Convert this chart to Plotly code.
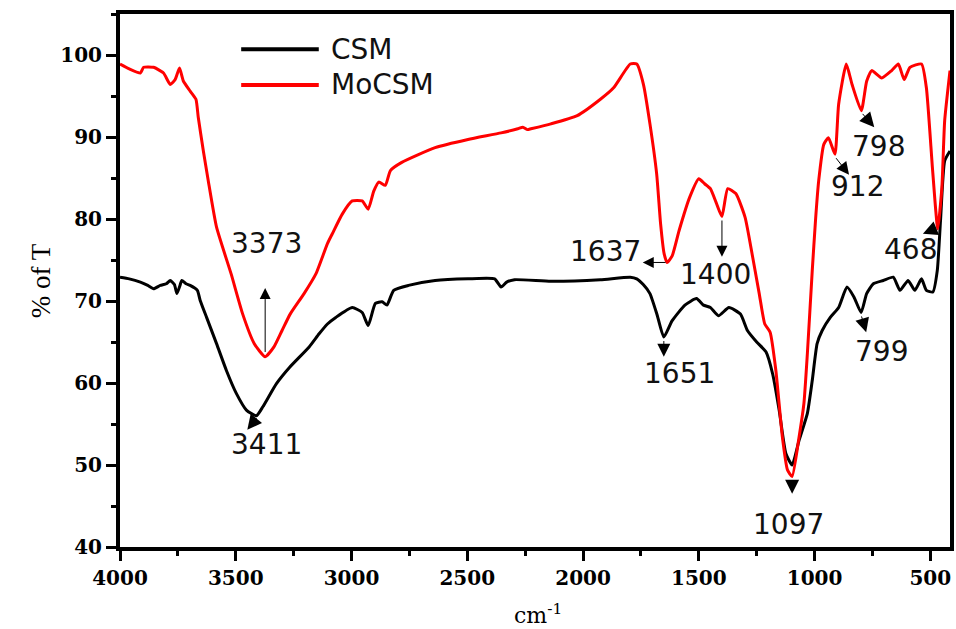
import plotly.graph_objects as go

# FTIR transmittance spectra (wavenumber in cm-1, % transmittance)
wn_csm = [4000, 3960, 3912, 3880, 3855, 3826, 3800, 3783, 3765, 3754, 3742, 3733, 3715, 3697,
          3666, 3654, 3626, 3583, 3540, 3497, 3454, 3411, 3383, 3325, 3268, 3183, 3140, 3104,
          3068, 2997, 2954, 2928, 2897, 2868, 2847, 2818, 2754, 2639, 2497, 2382, 2354, 2330,
          2296, 2139, 1925, 1796, 1768, 1740, 1711, 1680, 1651, 1615, 1560, 1510, 1480, 1450,
          1415, 1370, 1320, 1290, 1250, 1210, 1181, 1153, 1124, 1097, 1067, 1031, 1010, 989,
          967, 932, 896, 860, 830, 799, 775, 746, 703, 660, 631, 596, 567, 538, 517, 489, 470,
          456, 438, 415]
t_csm = [72.9, 72.7, 72.3, 71.9, 71.5, 71.9, 72.1, 72.5, 72.0, 70.9, 71.8, 72.5, 72.1, 71.9,
         71.3, 70.1, 68.0, 64.8, 61.5, 58.7, 56.7, 56.0, 57.1, 59.9, 61.9, 64.4, 66.0, 67.2,
         68.0, 69.2, 68.6, 67.0, 69.7, 69.9, 69.5, 71.3, 71.9, 72.5, 72.7, 72.7, 71.7, 72.3,
         72.6, 72.4, 72.6, 72.9, 72.7, 72.0, 70.9, 68.3, 65.6, 67.6, 69.5, 70.3, 69.5, 69.2,
         68.2, 69.2, 68.4, 66.4, 65.0, 63.8, 61.1, 56.7, 51.4, 50.0, 53.0, 56.3, 60.3, 64.8,
         66.4, 68.0, 69.2, 71.7, 70.5, 68.6, 70.9, 72.1, 72.5, 72.9, 71.3, 72.5, 71.3, 72.7,
         71.3, 71.1, 73.7, 79.8, 87.1, 88.3]

wn_mocsm = [4000, 3960, 3912, 3898, 3855, 3812, 3783, 3762, 3743, 3726, 3697, 3672, 3662, 3640,
            3619, 3583, 3520, 3470, 3420, 3373, 3335, 3300, 3265, 3205, 3154, 3104, 3083, 3040,
            2997, 2954, 2928, 2904, 2882, 2854, 2832, 2783, 2639, 2497, 2354, 2282, 2260, 2240,
            2225, 2139, 2025, 1925, 1868, 1796, 1768, 1739, 1711, 1682, 1665, 1650, 1637, 1615,
            1585, 1540, 1500, 1475, 1450, 1425, 1400, 1375, 1340, 1300, 1267, 1239, 1215, 1192,
            1167, 1139, 1117, 1097, 1067, 1046, 1031, 1010, 996, 982, 960, 940, 912, 896, 863,
            838, 798, 775, 753, 710, 667, 638, 613, 588, 538, 517, 490, 468, 450, 438, 415]
t_mocsm = [98.9, 98.3, 97.8, 98.5, 98.5, 97.8, 96.4, 97.0, 98.4, 96.8, 95.6, 94.6, 92.4, 88.3,
           84.7, 79.0, 73.3, 68.4, 64.8, 63.2, 64.4, 66.4, 68.4, 70.9, 73.3, 77.0, 78.2, 80.6,
           82.2, 82.2, 81.2, 83.4, 84.5, 84.1, 85.9, 86.9, 88.7, 89.7, 90.5, 91.0, 91.2, 90.9,
           91.0, 91.6, 92.6, 94.6, 96.0, 98.9, 98.9, 96.4, 91.6, 85.5, 79.4, 75.8, 74.7, 75.5,
           78.6, 82.6, 84.9, 84.3, 83.7, 82.0, 80.3, 83.7, 83.1, 80.2, 75.3, 70.9, 67.2, 66.2,
           61.5, 53.4, 49.4, 48.6, 53.4, 57.5, 63.6, 73.7, 79.8, 84.7, 89.1, 89.9, 87.9, 94.0,
           98.9, 96.4, 93.2, 96.8, 98.1, 97.2, 98.1, 98.9, 97.0, 98.5, 98.9, 96.0, 85.9, 78.8,
           83.9, 92.0, 98.1]

series_names = ["CSM", "MoCSM"]
series_colors = ["#000000", "#ff0000"]

# peak labels: (text, label x, label y, arrow tail x, tail y, arrow head x, head y, head size)
peak_labels = [
    ("3373", 3369, 77.0, 3373, 63.6, 3373, 71.6, 2.2),
    ("3411", 3367, 52.5, 3405, 55.9, 3450, 54.3, 2.9),
    ("1637", 1901, 76.0, 1637, 74.7, 1742, 74.7, 2.2),
    ("1400", 1429, 73.2, 1400, 80.0, 1400, 75.4, 2.2),
    ("1651", 1583, 61.1, 1651, 65.3, 1651, 63.2, 2.6),
    ("1097", 1114, 42.8, 1097, 48.3, 1097, 46.5, 2.8),
    ("912", 813, 84.0, 912, 87.6, 851, 85.4, 2.5),
    ("798", 726, 88.9, 798, 93.0, 742, 91.2, 2.9),
    ("468", 584, 76.3, 472, 78.9, 532, 78.2, 2.9),
    ("799", 713, 63.8, 799, 68.3, 777, 66.2, 2.8),
]

fig = go.Figure()
fig.add_trace(go.Scatter(x=wn_csm, y=t_csm, mode="lines", name=series_names[0],
                         line=dict(color=series_colors[0], width=3, shape="spline", smoothing=0.5)))
fig.add_trace(go.Scatter(x=wn_mocsm, y=t_mocsm, mode="lines", name=series_names[1],
                         line=dict(color=series_colors[1], width=3, shape="spline", smoothing=0.5)))

annotations = []
for txt, lx, ly, tx, ty, hx, hy, hs in peak_labels:
    annotations.append(dict(x=lx, y=ly, text=txt, showarrow=False, xref="x", yref="y",
                            font=dict(family="DejaVu Sans", size=28, color="#111")))
    annotations.append(dict(x=hx, y=hy, ax=tx, ay=ty, xref="x", yref="y", axref="x", ayref="y",
                            text="", showarrow=True, arrowhead=2, arrowsize=hs, arrowwidth=1,
                            arrowcolor="#000"))

# legend drawn as line samples with labels
legend_y = [0.934, 0.867]
shapes = []
for name, col, ly in zip(series_names, series_colors, legend_y):
    shapes.append(dict(type="line", xref="paper", yref="paper", x0=0.146, x1=0.2395, y0=ly, y1=ly,
                       line=dict(color=col, width=4)))
    annotations.append(dict(x=0.2515, y=ly, xref="paper", yref="paper", text=name, showarrow=False,
                            xanchor="left", yanchor="middle",
                            font=dict(family="DejaVu Sans", size=28, color="#111")))

# axis titles
annotations.append(dict(x=-0.116, y=0.5, xref="paper", yref="paper", text="% of T", textangle=-90,
                        showarrow=False, font=dict(family="Liberation Serif", size=27, color="#000")))
annotations.append(dict(x=0.504, y=-0.125, xref="paper", yref="paper", text="cm<sup>-1</sup>",
                        showarrow=False, yanchor="middle",
                        font=dict(family="DejaVu Serif", size=22, color="#000")))

axis_common = dict(showline=True, linewidth=4, linecolor="#000", mirror=True, showgrid=False,
                   zeroline=False, ticks="outside", ticklen=10, tickwidth=3, tickcolor="#000",
                   tickfont=dict(family="DejaVu Serif", size=20, color="#000", weight="bold"))

fig.update_layout(
    width=956, height=629,
    margin=dict(l=120, r=2, t=14, b=82),
    plot_bgcolor="white", paper_bgcolor="white",
    showlegend=False,
    xaxis=dict(range=[4000, 415], tickmode="array", tickvals=[4000, 3500, 3000, 2500, 2000, 1500, 1000, 500],
               minor=dict(ticks="outside", ticklen=5, tickwidth=3, tickcolor="#000", dtick=250, tick0=0),
               **axis_common),
    yaxis=dict(range=[40, 105], tickmode="array", tickvals=[40, 50, 60, 70, 80, 90, 100],
               minor=dict(ticks="outside", ticklen=5, tickwidth=3, tickcolor="#000", dtick=5, tick0=0),
               **axis_common),
    annotations=annotations,
    shapes=shapes,
)

fig.write_html("out.html")
